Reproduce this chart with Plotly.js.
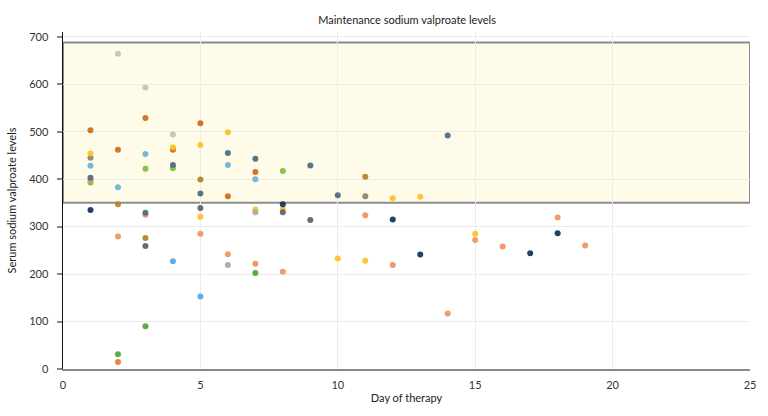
<!DOCTYPE html>
<html>
<head>
<meta charset="utf-8">
<script src="https://cdn.plot.ly/plotly-3.0.1.min.js"></script>
<style>html,body{margin:0;padding:0;background:#fff;}#chart{width:768px;height:416px;}</style>
</head>
<body>
<div id="chart"></div>
<script>
// Day of therapy and serum sodium valproate levels, per patient series
const navyDays = [1, 8, 12, 13, 17, 18];
const navyLevels = [335, 347, 315, 241, 244, 286];
const orangeDays = [1, 2, 3, 4, 5, 6, 7];
const orangeLevels = [503, 462, 529, 462, 518, 364, 415];
const salmonDays = [1, 2, 3, 5, 6, 7, 8, 11, 12, 14, 15, 16, 18, 19];
const salmonLevels = [398, 279, 325, 285, 242, 222, 205, 324, 219, 117, 272, 258, 319, 260];
const brightOrangeDays = [2];
const brightOrangeLevels = [15];
const yellowDays = [1, 4, 5, 6, 7, 8, 10, 11, 12, 13, 15];
const yellowLevels = [454, 467, 472, 499, 336, 337, 233, 228, 360, 363, 285];
const yellow2Days = [5];
const yellow2Levels = [321];
const lightBlueDays = [1, 2, 3, 6, 7];
const lightBlueLevels = [428, 383, 453, 430, 400];
const skyBlueDays = [4, 5];
const skyBlueLevels = [227, 153];
const limeDays = [1, 3, 4, 8];
const limeLevels = [393, 422, 423, 417];
const greenDays = [2, 3, 7];
const greenLevels = [31, 90, 202];
const beigeDays = [2, 3, 4];
const beigeLevels = [664, 593, 494];
const oliveGrayDays = [1, 11];
const oliveGrayLevels = [445, 364];
const slateDays = [1, 3, 4, 5, 6, 7, 9, 10, 14];
const slateLevels = [403, 329, 430, 370, 455, 443, 429, 366, 492];
const darkGrayDays = [3, 5, 8, 9];
const darkGrayLevels = [259, 339, 330, 314];
const mustardDays = [2, 3, 5, 11];
const mustardLevels = [347, 276, 399, 405];
const grayDays = [6, 7];
const grayLevels = [219, 330];

const xTickVals = [0, 5, 10, 15, 20, 25];
const yTickVals = [0, 100, 200, 300, 400, 500, 600, 700];
const therapeuticRange = [350, 688];

const seriesList = [
  {x: beigeDays, y: beigeLevels, c: '#c9c3a6'},
  {x: orangeDays, y: orangeLevels, c: '#cf6e1f'},
  {x: lightBlueDays, y: lightBlueLevels, c: '#72b4d4'},
  {x: limeDays, y: limeLevels, c: '#86bc45'},
  {x: oliveGrayDays, y: oliveGrayLevels, c: '#8e8672'},
  {x: salmonDays, y: salmonLevels, c: '#f29462'},
  {x: slateDays, y: slateLevels, c: '#4f6f84'},
  {x: yellowDays, y: yellowLevels, c: '#ffc12a'},
  {x: mustardDays, y: mustardLevels, c: '#b3862b'},
  {x: darkGrayDays, y: darkGrayLevels, c: '#646464'},
  {x: grayDays, y: grayLevels, c: '#ababab'},
  {x: yellow2Days, y: yellow2Levels, c: '#ffc12a'},
  {x: skyBlueDays, y: skyBlueLevels, c: '#5aa9e6'},
  {x: greenDays, y: greenLevels, c: '#52a83a'},
  {x: brightOrangeDays, y: brightOrangeLevels, c: '#f07a3a'},
  {x: navyDays, y: navyLevels, c: '#17375e'}
];

const traces = seriesList.map((s, i) => ({
  type: 'scatter', mode: 'markers', x: s.x, y: s.y,
  name: 'Patient ' + (i + 1),
  marker: {color: s.c, size: 6, opacity: 0.95, line: {width: 0}},
  hoverinfo: 'x+y'
}));

const font = 'Lato, "Open Sans", sans-serif';
const layout = {
  width: 768, height: 416,
  margin: {l: 63, r: 18, t: 32, b: 47},
  paper_bgcolor: '#fff', plot_bgcolor: '#fff',
  showlegend: false,
  font: {family: font, size: 11, color: '#333'},
  title: {text: 'Maintenance sodium valproate levels', font: {family: font, size: 11, color: '#222'}, x: 0.53, xanchor: 'center', y: 0.952, yanchor: 'middle'},
  xaxis: {
    range: [0, 25], tickvals: xTickVals, ticks: '', showgrid: true, gridcolor: '#ececec', gridwidth: 1,
    zeroline: false, showline: true, linecolor: '#8a8a8a', linewidth: 2,
    tickfont: {family: font, size: 11, color: '#333'}, ticklabelstandoff: 5,
    title: {text: 'Day of therapy', font: {family: font, size: 11, color: '#222'}, standoff: 4}
  },
  yaxis: {
    range: [0, 710], tickvals: yTickVals, ticks: 'outside', ticklen: 5, tickcolor: '#888', tickwidth: 2,
    showgrid: true, gridcolor: '#ececec', gridwidth: 1, zeroline: false,
    showline: true, linecolor: '#111', linewidth: 1.5,
    tickfont: {family: font, size: 11, color: '#333'}, ticklabelstandoff: 6,
    title: {text: 'Serum sodium valproate levels', font: {family: font, size: 11, color: '#222'}, standoff: 10}
  },
  shapes: [{
    type: 'rect', xref: 'x', yref: 'y', x0: 0, x1: 25, y0: therapeuticRange[0], y1: therapeuticRange[1],
    fillcolor: '#fefbe8', line: {color: '#8c8c8c', width: 2}, layer: 'below'
  }]
};

Plotly.newPlot('chart', traces, layout, {displayModeBar: false, staticPlot: true});
</script>
</body>
</html>
